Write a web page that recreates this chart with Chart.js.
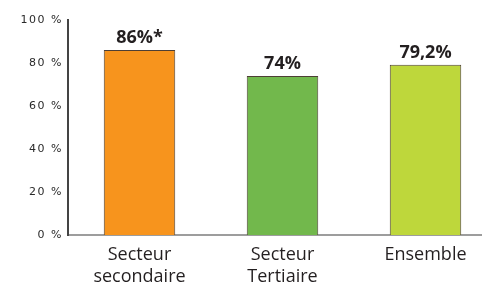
<!DOCTYPE html>
<html>
<head>
<meta charset="utf-8">
<script src="https://cdn.jsdelivr.net/npm/chart.js@4"></script>
<style>
  html, body { margin: 0; padding: 0; background: #fff; overflow: hidden; }
  #wrap { width: 497px; height: 286px; }
</style>
</head>
<body>
<div id="wrap"><canvas id="chart" width="497" height="286"></canvas></div>
<script>
const categories = [['Secteur', 'secondaire'], ['Secteur', 'Tertiaire'], 'Ensemble'];
const values = [86, 74, 79.2];
const valueLabels = ['86%*', '74%', '79,2%'];
const barColors = ['#f7941d', '#72b84c', '#bed73b'];
const yTicks = [0, 20, 40, 60, 80, 100];

// draws the bold value above each bar
const valueLabelPlugin = {
  id: 'valueLabels',
  afterDatasetsDraw(chart) {
    const ctx = chart.ctx;
    const meta = chart.getDatasetMeta(0);
    ctx.save();
    ctx.font = 'bold 18px "Open Sans"';
    ctx.fillStyle = '#231f20';
    ctx.textAlign = 'center';
    ctx.textBaseline = 'alphabetic';
    meta.data.forEach((bar, i) => {
      ctx.fillText(valueLabels[i], bar.x, bar.y - 7);
    });
    ctx.restore();
  }
};

new Chart(document.getElementById('chart'), {
  type: 'bar',
  data: {
    labels: categories,
    datasets: [{
      data: values,
      backgroundColor: barColors,
      borderColor: '#4d3f35',
      borderWidth: 1,
      barPercentage: 0.5,
      categoryPercentage: 1
    }]
  },
  options: {
    responsive: false,
    animation: false,
    layout: { padding: { top: 20, right: 0, left: 0, bottom: 0 } },
    plugins: { legend: { display: false }, tooltip: { enabled: false } },
    scales: {
      x: {
        grid: { display: false, drawTicks: false },
        border: { color: '#9d9d9d', width: 2 },
        ticks: {
          color: '#231f20',
          font: { family: '"Open Sans"', size: 18, lineHeight: 1.22 },
          padding: 9,
          maxRotation: 0,
          autoSkip: false
        },
        afterFit(scale) { scale.height = 51; }
      },
      y: {
        min: 0,
        max: 100,
        afterBuildTicks(scale) { scale.ticks = yTicks.map(v => ({ value: v })); },
        grid: { display: false, drawTicks: false },
        border: { color: '#444', width: 2 },
        ticks: {
          color: '#2a2a2a',
          font: { family: '"DejaVu Sans"', size: 11 },
          padding: 5,
          callback: v => v + ' %'
        },
        afterFit(scale) { scale.width = 68; },
        // a little letter spacing on the y tick labels only
        afterUpdate(scale) {
          const proto = Object.getPrototypeOf(scale);
          scale.draw = function (area) {
            const ctx = this.ctx;
            ctx.save();
            ctx.letterSpacing = '1.5px';
            proto.draw.call(this, area);
            ctx.restore();
          };
        }
      }
    }
  },
  plugins: [valueLabelPlugin]
});
</script>
</body>
</html>
